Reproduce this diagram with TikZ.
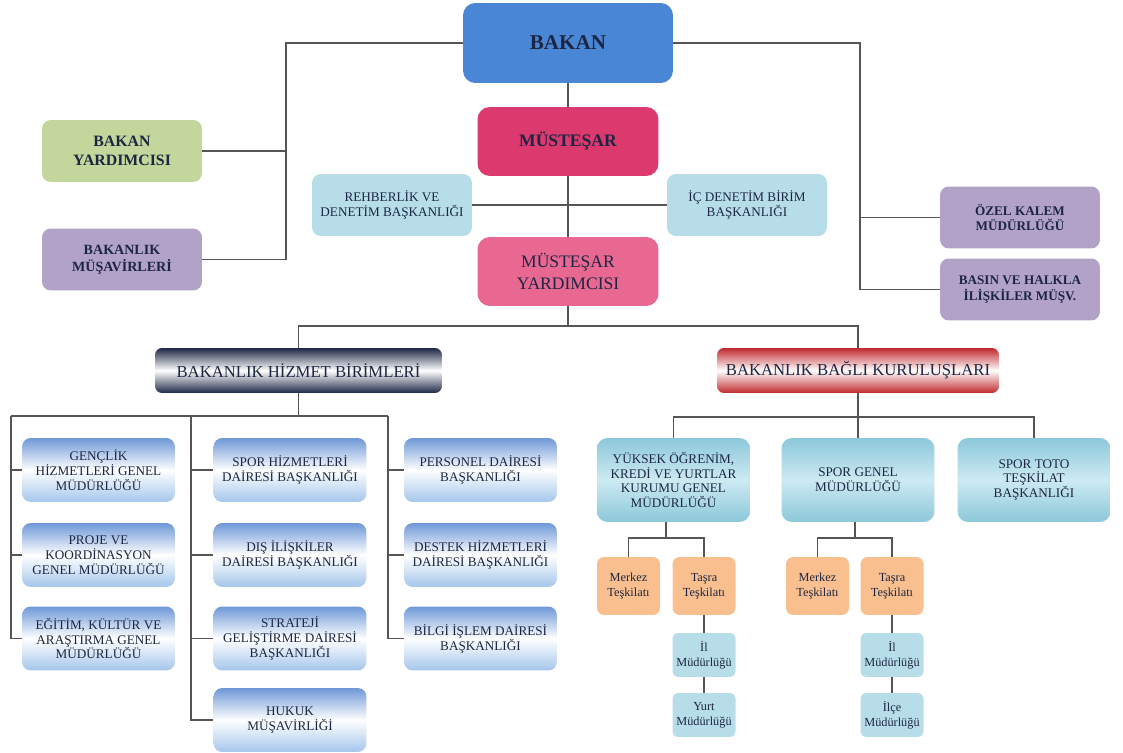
\documentclass[tikz,border=0pt]{standalone}
\usepackage{fontspec}
\setmainfont{Liberation Serif}
\definecolor{bakanblue}{RGB}{74,134,214}
\definecolor{mustred}{RGB}{220,58,110}
\definecolor{mustpink}{RGB}{232,104,146}
\definecolor{paleblue}{RGB}{183,222,232}
\definecolor{leafgreen}{RGB}{195,214,155}
\definecolor{lilac}{RGB}{178,162,199}
\definecolor{peach}{RGB}{249,191,143}
\definecolor{navytext}{RGB}{28,38,66}
\definecolor{linegray}{RGB}{85,85,85}
\definecolor{hdnavy}{RGB}{30,40,70}
\definecolor{hdred}{RGB}{192,40,45}
\definecolor{unittop}{RGB}{110,152,215}
\definecolor{unitbot}{RGB}{165,198,235}
\definecolor{tealtop}{RGB}{140,200,218}
\definecolor{tealmid}{RGB}{205,234,242}
\usetikzlibrary{positioning}

\begin{document}
\begin{tikzpicture}[x=0.02cm,y=-0.02cm,
    every node/.style={align=center,text=navytext,inner sep=1pt},
    top node/.style={rounded corners=7pt,minimum width=3.62cm,minimum height=1.38cm,font=\bfseries\fontsize{10}{12}\selectfont},
    side node/.style={rounded corners=5pt,minimum width=3.2cm,minimum height=1.24cm,font=\bfseries\fontsize{8}{9.5}\selectfont},
    audit node/.style={side node,fill=paleblue,font=\fontsize{7.5}{9}\selectfont},
    head node/.style={rounded corners=4pt,minimum height=0.9cm,top color=#1,bottom color=#1,middle color=white,font=\fontsize{9.5}{11}\selectfont},
    unit node/.style={rounded corners=5pt,minimum width=3.06cm,minimum height=1.28cm,top color=unittop,bottom color=unitbot,middle color=white,font=\fontsize{7.5}{8.5}\selectfont},
    org node/.style={rounded corners=6pt,minimum width=3.06cm,minimum height=1.68cm,top color=tealtop,bottom color=tealtop,middle color=tealmid,font=\fontsize{7.5}{8.5}\selectfont},
    sub node/.style={rounded corners=4pt,minimum width=1.26cm,minimum height=1.16cm,fill=peach,font=\fontsize{7}{8.5}\selectfont},
    leaf node/.style={rounded corners=3pt,minimum width=1.26cm,minimum height=0.88cm,fill=paleblue,font=\fontsize{7}{8.5}\selectfont},
    link/.style={draw=linegray,line width=1pt}]
    \useasboundingbox (0,0) rectangle (1123,753);

    % top of the chart
    \node[top node,fill=bakanblue,minimum width=4.2cm,minimum height=1.6cm,font=\bfseries\fontsize{12}{14}\selectfont] at (568,43) (bakan) {BAKAN};
    \node[top node,fill=mustred] at (568,141.5) (must) {MÜSTEŞAR};
    \node[top node,fill=mustpink,font=\fontsize{10}{12}\selectfont] at (568,271.5) (yard) {MÜSTEŞAR\\YARDIMCISI};
    \node[audit node] at (392,205) (rehber) {REHBERLİK VE\\DENETİM BAŞKANLIĞI};
    \node[audit node] at (747,205) (icden) {İÇ DENETİM BİRİM\\BAŞKANLIĞI};
    \node[side node,fill=leafgreen,font=\bfseries\fontsize{9}{10.5}\selectfont] at (122,151) (bakyard) {BAKAN\\YARDIMCISI};
    \node[side node,fill=lilac] at (122,259.5) (musav) {BAKANLIK\\MÜŞAVİRLERİ};
    \node[side node,fill=lilac,font=\bfseries\fontsize{7.5}{9}\selectfont] at (1020,217.5) (ozel) {ÖZEL KALEM\\MÜDÜRLÜĞÜ};
    \node[side node,fill=lilac,font=\bfseries\fontsize{7.5}{9}\selectfont] at (1020,289.5) (basin) {BASIN VE HALKLA\\İLİŞKİLER MÜŞV.};

    % two branches
    \node[head node=hdnavy,minimum width=5.74cm] at (298.5,370.5) (hizmet) {BAKANLIK HİZMET BİRİMLERİ};
    \node[head node=hdred,minimum width=5.64cm] at (858,370.5) (bagli) {BAKANLIK BAĞLI KURULUŞLARI};

    \node[unit node] at (98.5,470) (genclik) {GENÇLİK\\HİZMETLERİ GENEL\\MÜDÜRLÜĞÜ};
    \node[unit node] at (98.5,555) (proje) {PROJE VE\\KOORDİNASYON\\GENEL MÜDÜRLÜĞÜ};
    \node[unit node] at (98.5,638.5) (egitim) {EĞİTİM, KÜLTÜR VE\\ARAŞTIRMA GENEL\\MÜDÜRLÜĞÜ};
    \node[unit node] at (290,470) (sporhiz) {SPOR HİZMETLERİ\\DAİRESİ BAŞKANLIĞI};
    \node[unit node] at (290,555) (dis) {DIŞ İLİŞKİLER\\DAİRESİ BAŞKANLIĞI};
    \node[unit node] at (290,638.5) (strateji) {STRATEJİ\\GELİŞTİRME DAİRESİ\\BAŞKANLIĞI};
    \node[unit node] at (290,720) (hukuk) {HUKUK\\MÜŞAVİRLİĞİ};
    \node[unit node] at (480.5,470) (personel) {PERSONEL DAİRESİ\\BAŞKANLIĞI};
    \node[unit node] at (480.5,555) (destek) {DESTEK HİZMETLERİ\\DAİRESİ BAŞKANLIĞI};
    \node[unit node] at (480.5,638.5) (bilgi) {BİLGİ İŞLEM DAİRESİ\\BAŞKANLIĞI};

    \node[org node] at (673.5,480) (yuksek) {YÜKSEK ÖĞRENİM,\\KREDİ VE YURTLAR\\KURUMU GENEL\\MÜDÜRLÜĞÜ};
    \node[org node] at (858,480) (sporgenel) {SPOR GENEL\\MÜDÜRLÜĞÜ};
    \node[org node] at (1034,480) (sportoto) {SPOR TOTO\\TEŞKİLAT\\BAŞKANLIĞI};

    \node[sub node] at (628.5,586) (merkeza) {Merkez\\Teşkilatı};
    \node[sub node] at (704,586) (tasraa) {Taşra\\Teşkilatı};
    \node[leaf node] at (704,655) (ila) {İl\\Müdürlüğü};
    \node[leaf node] at (704,715) (yurt) {Yurt\\Müdürlüğü};
    \node[sub node] at (817.5,586) (merkezb) {Merkez\\Teşkilatı};
    \node[sub node] at (892,586) (tasrab) {Taşra\\Teşkilatı};
    \node[leaf node] at (892,655) (ilb) {İl\\Müdürlüğü};
    \node[leaf node] at (892,715) (ilce) {İlçe\\Müdürlüğü};

    % connectors
    \coordinate (lb) at (286,43);
    \coordinate (rb) at (860,43);
    \coordinate (bus) at (568,326);
    \path[link] (bakan) edge (must)
        (must) edge (yard)
        (rehber) edge (icden)
        (yard) edge (bus);
    \draw[link] (bakan.west) -- (lb) |- (musav.east);
    \draw[link] (bakyard.east) -- (bakyard.east -| lb);
    \draw[link] (bakan.east) -- (rb) |- (basin.west);
    \draw[link] (ozel.west) -- (ozel.west -| rb);
    \draw[link] (hizmet.north) |- (bus) -| (bagli.north);

    \coordinate (hl) at (11,416);
    \coordinate (hm) at (191,416);
    \coordinate (hr) at (388,416);
    \draw[link] (hizmet.south) -- (hizmet.south |- hl);
    \draw[link] (hl) -- (hr);
    \draw[link] (hl) |- (egitim.west);
    \draw[link] (hm) |- (hukuk.west);
    \draw[link] (hr) |- (bilgi.west);
    \foreach \n in {genclik,proje} \draw[link] (\n.west) -- (\n.west -| hl);
    \foreach \n in {sporhiz,dis,strateji} \draw[link] (\n.west) -- (\n.west -| hm);
    \foreach \n in {personel,destek} \draw[link] (\n.west) -- (\n.west -| hr);

    \coordinate (yk) at (666,538);
    \coordinate (sk) at (855,538);
    \draw[link] (bagli.south) -- (sporgenel.north);
    \draw[link] (yuksek.north) -- ++(0,-21) -| (sportoto.north);
    \draw[link] (yuksek.south -| yk) -- (yk);
    \draw[link] (merkeza.north) |- (yk) -| (tasraa.north);
    \draw[link] (sporgenel.south -| sk) -- (sk);
    \draw[link] (merkezb.north) |- (sk) -| (tasrab.north);
    \path[link] (tasraa) edge (ila)
        (ila) edge (yurt)
        (tasrab) edge (ilb)
        (ilb) edge (ilce);
\end{tikzpicture}
\end{document}
